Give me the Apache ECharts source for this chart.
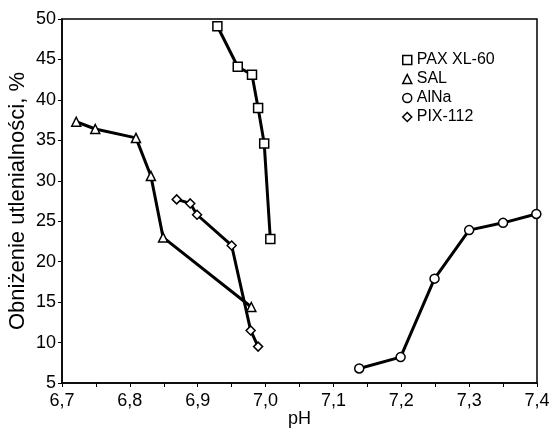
<!DOCTYPE html>
<html lang="pl">
<head>
  <meta charset="UTF-8">
  <title>Obniżenie utlenialności</title>
  <script src="https://cdn.jsdelivr.net/npm/echarts@6/dist/echarts.min.js"></script>
</head>
<body style="margin:0;background:#fff">
<div id="box" style="width: 551px;height: 429px;"></div>
<script>
  // dane
  var paxPH = [6.929, 6.959, 6.980, 6.989, 6.998, 7.007];
  var paxVal = [49.1, 44.1, 43.1, 39.0, 34.6, 22.8];
  var salPH = [6.721, 6.749, 6.809, 6.831, 6.849, 6.979];
  var salVal = [37.3, 36.4, 35.3, 30.6, 23.0, 14.4];
  var alnaPH = [7.138, 7.199, 7.249, 7.300, 7.350, 7.399];
  var alnaVal = [6.8, 8.2, 17.9, 23.9, 24.8, 25.9];
  var pixPH = [6.869, 6.889, 6.899, 6.950, 6.978, 6.989];
  var pixVal = [27.7, 27.2, 25.8, 22.0, 11.5, 9.5];

  var names = ['PAX XL-60', 'SAL', 'AlNa', 'PIX-112'];
  var symbols = ['rect', 'triangle', 'circle', 'diamond'];

  function pairs(xs, ys) {
    return xs.map(function (x, i) { return [x, ys[i]]; });
  }
  var seriesData = [pairs(paxPH, paxVal), pairs(salPH, salVal), pairs(alnaPH, alnaVal), pairs(pixPH, pixVal)];

  var font = 'Liberation Sans, Arial, sans-serif';
  var myChart = echarts.init(document.getElementById('box'));
  var option = {
    animation: false,
    textStyle: {fontFamily: font, color: '#000'},
    grid: {
      left: 62, right: 14, top: 19, bottom: 46,
      outerBoundsMode: 'none', containLabel: false,
      show: true, borderColor: '#000', borderWidth: 1.5
    },
    legend: {
      orient: 'vertical',
      left: 397,
      top: 47,
      itemWidth: 9,
      itemHeight: 9,
      itemGap: 3,
      textStyle: {fontSize: 16, color: '#000', fontFamily: font},
      itemStyle: {color: '#fff', borderColor: '#000', borderWidth: 1.5},
      data: names.map(function (n, i) { return {name: n, icon: symbols[i]}; })
    },
    xAxis: {
      type: 'value',
      min: 6.7,
      max: 7.4,
      interval: 0.1,
      name: 'pH',
      nameLocation: 'middle',
      nameGap: 27,
      nameMoveOverlap: false,
      nameTextStyle: {fontSize: 18, color: '#000'},
      axisLine: {lineStyle: {color: '#000', width: 1.5}},
      axisTick: {length: 4, lineStyle: {color: '#000'}},
      minorTick: {show: true, splitNumber: 2, length: 4, lineStyle: {color: '#000'}},
      splitLine: {show: false},
      axisLabel: {
        fontSize: 18, color: '#000', margin: 9,
        formatter: function (v) { return v.toFixed(1).replace('.', ','); }
      }
    },
    yAxis: {
      type: 'value',
      min: 5,
      max: 50,
      interval: 5,
      name: 'Obniżenie utlenialności, %',
      nameLocation: 'middle',
      nameGap: 33,
      nameMoveOverlap: false,
      nameTextStyle: {fontSize: 22, color: '#000'},
      axisLine: {show: true, lineStyle: {color: '#000', width: 1.5}},
      axisTick: {show: true, length: 4, lineStyle: {color: '#000'}},
      splitLine: {show: false},
      axisLabel: {fontSize: 18, color: '#000', margin: 6}
    },
    series: names.map(function (n, i) {
      return {
        name: n,
        type: 'line',
        data: seriesData[i],
        symbol: symbols[i],
        symbolSize: 9,
        showSymbol: true,
        lineStyle: {color: '#000', width: 3},
        itemStyle: {color: '#fff', borderColor: '#000', borderWidth: 1.5},
        z: 2
      };
    })
  };
  myChart.setOption(option);
</script>
</body>
</html>
